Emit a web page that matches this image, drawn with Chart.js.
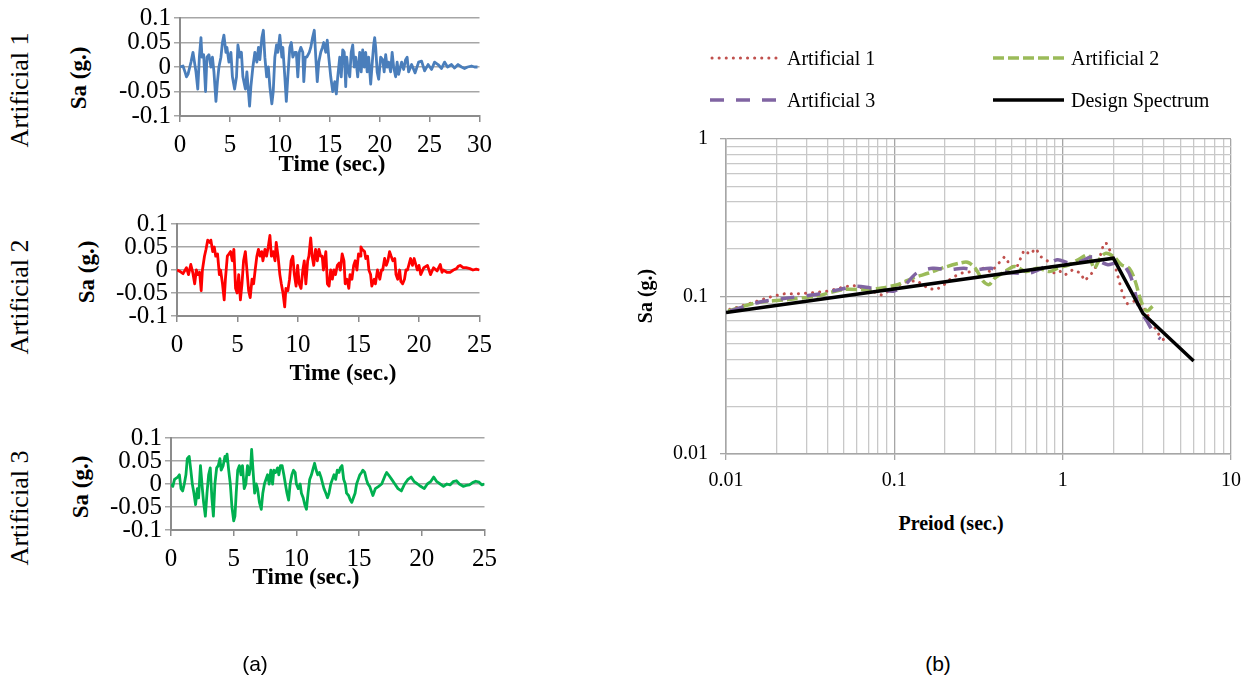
<!DOCTYPE html>
<html><head><meta charset="utf-8">
<script src="https://cdn.jsdelivr.net/npm/chart.js@4.4.1/dist/chart.umd.min.js"></script>
<style>
html,body{margin:0;padding:0;background:#fff;}
body{width:1252px;height:686px;position:relative;overflow:hidden;font-family:"Liberation Serif","Times New Roman",serif;color:#000;}
canvas{position:absolute;}
.lbl{position:absolute;white-space:nowrap;transform:translate(-50%,-50%);line-height:1;}
.rot{transform:translate(-50%,-50%) rotate(-90deg);}
.b{font-weight:bold;}
.sans{font-family:"Liberation Sans",Arial,sans-serif;}
.legtxt{position:absolute;font-size:20px;white-space:nowrap;line-height:1;transform:translateY(-50%);}
svg{position:absolute;left:0;top:0;}
</style></head>
<body>
<canvas id="c1" width="400" height="180" style="left:100px;top:0px"></canvas>
<canvas id="c2" width="400" height="185" style="left:100px;top:205px"></canvas>
<canvas id="c3" width="405" height="180" style="left:100px;top:420px"></canvas>
<canvas id="c4" width="602" height="390" style="left:650px;top:115px"></canvas>

<div class="lbl rot" style="left:20px;top:90px;font-size:26px">Artificial 1</div>
<div class="lbl rot" style="left:20px;top:297px;font-size:26px">Artificial 2</div>
<div class="lbl rot" style="left:20px;top:508px;font-size:26px">Artificial 3</div>
<div class="lbl rot b" style="left:78px;top:78px;font-size:23px">Sa (g.)</div>
<div class="lbl rot b" style="left:86px;top:272px;font-size:23px">Sa (g.)</div>
<div class="lbl rot b" style="left:80px;top:487px;font-size:23px">Sa (g.)</div>
<div class="lbl b" style="left:332px;top:163px;font-size:23px">Time (sec.)</div>
<div class="lbl b" style="left:343px;top:372px;font-size:23px">Time (sec.)</div>
<div class="lbl b" style="left:306px;top:576px;font-size:23px">Time (sec.)</div>
<div class="lbl rot b" style="left:645px;top:296px;font-size:20px">Sa (g.)</div>
<div class="lbl b" style="left:951px;top:523px;font-size:20px">Preiod (sec.)</div>
<div class="lbl sans" style="left:255px;top:663px;font-size:21px">(a)</div>
<div class="lbl sans" style="left:938px;top:663px;font-size:21px">(b)</div>

<svg width="1252" height="686">
  <line x1="712" y1="58" x2="777" y2="58" stroke="#c0504d" stroke-width="3" stroke-linecap="round" stroke-dasharray="0.1 7"/>
  <line x1="993" y1="58" x2="1064" y2="58" stroke="#9bbb59" stroke-width="3.5" stroke-dasharray="11 4"/>
  <line x1="710" y1="100" x2="777" y2="100" stroke="#8064a2" stroke-width="3.5" stroke-dasharray="14 12"/>
  <line x1="993" y1="100" x2="1064" y2="100" stroke="#000" stroke-width="3.5"/>
</svg>
<div class="legtxt" style="left:787px;top:58px">Artificial 1</div>
<div class="legtxt" style="left:1071px;top:58px">Artificial 2</div>
<div class="legtxt" style="left:787px;top:100px">Artificial 3</div>
<div class="legtxt" style="left:1071px;top:100px">Design Spectrum</div>

<script>
// ---------- Time histories ----------
const t1 = [0,0.3,0.5,0.65,0.8,1.1,1.3,1.45,1.6,1.78,1.94,2.1,2.2,2.37,2.56,2.7,2.9,3.1,3.25,3.4,3.6,3.75,3.9,4.1,4.25,4.4,4.6,4.7,4.9,5.1,5.25,5.47,5.66,5.8,6.0,6.15,6.3,6.55,6.7,6.97,7.1,7.3,7.5,7.7,7.86,8.0,8.2,8.35,8.5,8.68,8.85,9.0,9.2,9.34,9.5,9.67,9.8,10.0,10.2,10.3,10.5,10.65,10.8,11.0,11.15,11.3,11.5,11.65,11.8,11.95,12.1,12.3,12.4,12.55,12.7,12.95,13.1,13.28,13.45,13.6,13.75,13.9,14.1,14.27,14.4,14.6,14.75,14.9,15.1,15.3,15.5,15.66,15.8,16.0,16.15,16.3,16.45,16.6,16.7,16.8,17.0,17.15,17.3,17.45,17.6,17.8,18.0,18.15,18.3,18.45,18.6,18.75,18.9,19.1,19.3,19.4,19.5,19.6,19.75,19.9,20.1,20.3,20.45,20.6,20.75,20.9,21.1,21.25,21.4,21.6,21.75,21.9,22.2,22.4,22.6,22.75,22.9,23.2,23.55,23.9,24.2,24.5,24.85,25.2,25.5,25.85,26.2,26.5,26.8,27.2,27.5,27.85,28.2,28.5,28.8,29.2,29.5,29.8];
const a1 = [0,0.002,-0.01,-0.02,-0.015,0.01,0.03,0.01,-0.01,-0.045,0.02,0.06,0.02,0.025,-0.05,0.02,0.025,0,0.02,-0.01,-0.07,-0.03,0,0.02,0.05,0.065,0.03,0.04,0.01,0.03,-0.02,-0.045,-0.02,0.045,0.02,0.03,-0.02,-0.045,-0.01,-0.08,-0.04,0,0.03,0.01,0.04,0.015,0.06,0.075,0.02,-0.02,0,-0.04,-0.075,-0.05,0.02,0.045,0.03,0.065,0.02,0.04,-0.02,-0.07,-0.02,0.04,0.05,0.02,0.03,0.03,-0.02,0.03,0.04,0.03,-0.03,0.02,0.02,0.03,0.04,0.06,0.075,0.02,-0.03,0.01,0.03,0.04,0.05,0.03,0.055,0.02,-0.02,-0.05,-0.03,-0.055,-0.02,0.02,-0.02,0.035,0.03,-0.04,0.02,0,-0.02,0.03,0.045,0,0.02,-0.02,0.03,-0.01,0.035,0,0.03,-0.01,0.02,-0.035,0.02,0.045,0.06,0.04,-0.01,-0.025,0.02,0.015,-0.01,0.025,0,0.01,-0.01,0.03,0,-0.02,0.01,-0.015,0.01,-0.005,0.015,0.02,-0.01,0.005,-0.012,0.01,0.012,-0.008,0.005,-0.005,0.01,0.005,-0.003,0.01,0,0.005,-0.002,0.005,0,-0.003,0,0.002,0,0];

const t2 = [0,0.24,0.5,0.78,0.95,1.14,1.3,1.46,1.6,1.73,1.87,2.0,2.1,2.27,2.4,2.54,2.7,2.8,2.95,3.08,3.2,3.35,3.5,3.6,3.76,3.9,4.0,4.16,4.3,4.43,4.57,4.7,4.84,4.97,5.1,5.24,5.37,5.5,5.65,5.78,5.92,6.05,6.2,6.33,6.46,6.6,6.73,6.86,7.0,7.1,7.27,7.4,7.54,7.68,7.8,7.95,8.1,8.2,8.35,8.5,8.62,8.76,8.9,9.0,9.16,9.3,9.43,9.57,9.7,9.84,9.97,10.1,10.25,10.4,10.52,10.65,10.8,10.9,11.05,11.17,11.3,11.45,11.6,11.73,11.87,12.0,12.1,12.3,12.43,12.57,12.7,12.84,12.97,13.1,13.25,13.4,13.5,13.65,13.8,13.9,14.05,14.2,14.3,14.46,14.6,14.73,14.87,15.0,15.14,15.2,15.3,15.5,15.6,15.75,15.86,16.0,16.1,16.3,16.4,16.57,16.76,16.9,17.0,17.16,17.3,17.43,17.57,17.7,17.84,18.0,18.1,18.24,18.4,18.5,18.65,18.8,18.92,19.05,19.2,19.3,19.46,19.6,19.86,20.0,20.14,20.4,20.7,20.95,21.2,21.5,21.76,21.9,22.0,22.3,22.57,22.84,23.1,23.24,23.4,23.65,23.9,24.2,24.46,24.73,25.0];
const a2 = [0,-0.003,-0.008,0.005,-0.01,0.012,-0.005,-0.03,0,-0.01,-0.005,-0.045,0,0.03,0.045,0.065,0.06,0.065,0.04,0.05,0.03,0.035,-0.01,0,-0.03,-0.065,-0.02,0.03,0.035,0.04,0.02,0.045,-0.04,-0.05,-0.01,-0.065,-0.03,0.02,0.04,0,-0.045,-0.06,-0.02,-0.03,0,0.03,0.045,0.03,0.04,0.02,0.045,0.03,0.05,0.075,0.03,0.04,0.02,0.06,0.03,-0.01,-0.03,-0.05,-0.08,-0.04,-0.045,-0.02,0.02,0.03,-0.01,-0.035,0.01,-0.03,-0.04,0,0.02,-0.03,0.02,0.03,0.07,0.03,0.01,0.045,0.02,0.045,0.03,0.03,0,0.04,-0.03,-0.035,0,-0.02,0,-0.01,0.01,0.015,0,0.035,0.02,-0.03,-0.02,-0.04,-0.01,-0.02,0.01,0.02,0,0.035,0.03,0.05,0.045,0.04,0.025,0.03,0,-0.01,-0.035,-0.02,-0.03,0,-0.02,0,0,0.025,0.01,0.02,0.04,0.03,0.02,0.025,-0.01,-0.02,0,-0.025,-0.03,-0.02,0,0,0.015,0.025,0.01,0.025,0,0.01,-0.01,0.005,0.01,-0.01,0.005,-0.002,0.012,-0.005,0,-0.005,-0.005,0,0.003,0.008,0.01,0.005,0.005,0.003,0,0.002,0];

const t3 = [0,0.15,0.28,0.54,0.67,0.8,0.93,1.06,1.19,1.3,1.45,1.58,1.7,1.83,1.96,2.1,2.2,2.35,2.5,2.6,2.74,2.87,3.0,3.13,3.26,3.38,3.5,3.64,3.77,3.9,4.0,4.16,4.3,4.42,4.47,4.6,4.73,4.86,5.0,5.1,5.2,5.32,5.45,5.58,5.7,5.84,5.97,6.1,6.23,6.36,6.43,6.54,6.67,6.8,6.9,7.05,7.2,7.32,7.45,7.57,7.7,7.83,7.96,8.1,8.2,8.35,8.5,8.6,8.73,8.86,9.0,9.12,9.25,9.38,9.5,9.64,9.77,9.9,10.0,10.15,10.3,10.4,10.54,10.67,10.8,10.93,11.06,11.2,11.3,11.45,11.58,11.7,11.83,11.96,12.1,12.2,12.35,12.48,12.6,12.74,12.87,13.0,13.13,13.26,13.4,13.5,13.64,13.77,13.9,14.0,14.16,14.3,14.42,14.55,14.68,14.8,14.93,15.06,15.2,15.3,15.45,15.58,15.7,15.84,15.97,16.1,16.3,16.56,16.8,17.1,17.2,17.34,17.6,17.85,18.1,18.37,18.63,18.9,19.15,19.4,19.66,19.9,20.2,20.44,20.7,20.95,21.2,21.47,21.73,22.0,22.25,22.5,22.76,23.0,23.3,23.55,23.8,24.05,24.3,24.57,24.8,25.0];
const a3 = [0,-0.005,0.01,0.015,0.02,-0.01,-0.015,0,0.02,0.055,0.06,0.03,0,-0.02,-0.045,-0.01,-0.03,0.04,-0.01,-0.04,-0.07,-0.02,0.02,0.035,-0.03,-0.07,0,0.035,0.04,0.055,0.03,0.04,0.06,0.05,0.065,0.03,0,-0.05,-0.08,-0.07,-0.02,0.03,0.04,0.02,0.04,-0.01,0,0.04,0.02,0.04,0.075,0.03,-0.02,0,-0.01,-0.04,-0.055,-0.02,0,0.01,0.02,0,0.03,0,0.03,0.025,0.035,0.02,0.04,0.04,0.02,0,-0.02,-0.035,0,0.02,0.03,0.025,0,-0.01,0,-0.02,-0.03,-0.045,-0.055,-0.02,0.01,0.02,0.03,0.045,0.03,0.02,0.025,0.015,0,-0.01,-0.02,-0.03,-0.02,0,0.01,0.02,0.01,0.03,0.025,0.035,0.04,0.01,0,-0.02,-0.025,-0.035,-0.04,-0.03,-0.02,0,0.01,0.02,0.025,0.03,0.025,0.01,0,-0.005,-0.015,-0.025,-0.01,-0.005,0,0.02,0.025,0.02,0.01,0,-0.01,-0.015,0,0.01,0.015,0.005,0,-0.005,-0.01,0,0.005,0.015,0.005,0,-0.005,0,-0.002,0.005,0.007,0,-0.005,-0.003,-0.002,0.003,0.006,0.004,-0.002,0];

// ---------- Response spectra ----------
const art1T  = [0.0105,0.0124,0.0153,0.019,0.0222,0.0261,0.0323,0.04,0.0495,0.0565,0.0646,0.0759,0.0843,0.099,0.116,0.136,0.16,0.178,0.198,0.22,0.252,0.287,0.337,0.375,0.418,0.452,0.49,0.531,0.59,0.64,0.692,0.742,0.813,0.88,0.953,1.032,1.149,1.278,1.348,1.46,1.625,1.733,1.807,1.905,2.012,2.121,2.274,2.424,2.667,3.0,3.337,3.712,4.02];
const art1Sa = [0.0829,0.087,0.0935,0.1005,0.104,0.104,0.1054,0.108,0.1144,0.1178,0.1134,0.107,0.102,0.1134,0.1236,0.126,0.112,0.1106,0.119,0.132,0.141,0.144,0.151,0.143,0.163,0.179,0.157,0.151,0.197,0.185,0.202,0.179,0.168,0.141,0.146,0.137,0.148,0.141,0.126,0.136,0.163,0.207,0.22,0.197,0.167,0.136,0.103,0.09,0.0935,0.087,0.07,0.0578,0.0524];
const art2T  = [0.0103,0.0153,0.0235,0.0341,0.0495,0.0681,0.0843,0.1044,0.129,0.16,0.198,0.245,0.272,0.303,0.337,0.365,0.396,0.441,0.517,0.607,0.711,0.835,0.929,1.089,1.278,1.422,1.541,1.667,1.807,2.012,2.238,2.489,2.697,2.922,3.162,3.427];
const art2Sa = [0.0809,0.0913,0.0957,0.1005,0.1106,0.1106,0.1134,0.119,0.131,0.141,0.153,0.163,0.165,0.151,0.125,0.119,0.131,0.141,0.155,0.144,0.151,0.144,0.151,0.159,0.175,0.183,0.151,0.175,0.188,0.179,0.159,0.151,0.125,0.0935,0.0809,0.087];
const art3T  = [0.0106,0.0153,0.0235,0.0341,0.0469,0.0581,0.0719,0.0843,0.099,0.116,0.136,0.169,0.209,0.258,0.303,0.375,0.441,0.517,0.64,0.75,0.929,1.089,1.278,1.5,1.667,1.857,2.066,2.298,2.556,2.844,3.162,3.52,3.81];
const art3Sa = [0.0809,0.0913,0.098,0.103,0.1106,0.116,0.1134,0.1106,0.108,0.119,0.141,0.151,0.148,0.151,0.148,0.151,0.144,0.141,0.141,0.151,0.171,0.163,0.167,0.179,0.167,0.159,0.163,0.159,0.131,0.0849,0.07,0.0578,0.0537];
const designT  = [0.01, 2, 3, 6];
const designSa = [0.079, 0.175, 0.078, 0.039];

// ---------- Tick values / labels ----------
const accTicks = [-0.1, -0.05, 0, 0.05, 0.1];
const accLabels = ['-0.1', '-0.05', '0', '0.05', '0.1'];
const time30Ticks = [0, 5, 10, 15, 20, 25, 30];
const time25Ticks = [0, 5, 10, 15, 20, 25];
const periodDecades = [0.01, 0.1, 1, 10];
const periodLabels = ['0.01', '0.1', '1', '10'];
const saDecades = [0.01, 0.1, 1];
const saLabels = ['0.01', '0.1', '1'];
const logMultipliers = [1, 2, 3, 4, 5, 6, 7, 8, 9];

const SERIF = "'Liberation Serif', 'Times New Roman', serif";
Chart.defaults.font.family = SERIF;
Chart.defaults.color = '#000';

const pairs = (xs, ys) => xs.map((x, i) => ({x: x, y: ys[i]}));

function tsChart(id, t, a, color, xTicks, g) {
  const xmax = xTicks[xTicks.length - 1];
  new Chart(document.getElementById(id), {
    type: 'line',
    data: { datasets: [{ data: pairs(t, a), borderColor: color, borderWidth: 2.8, pointRadius: 0, tension: 0, fill: false, borderJoinStyle: 'round' }] },
    options: {
      responsive: false, animation: false, events: [],
      layout: { padding: { left: 0, top: g.top, right: g.right, bottom: 0 } },
      plugins: { legend: { display: false }, tooltip: { enabled: false } },
      scales: {
        x: {
          type: 'linear', min: 0, max: xmax,
          afterBuildTicks: s => { s.ticks = xTicks.map(v => ({value: v})); },
          afterFit: s => { s.height = g.xh; },
          ticks: { font: { family: SERIF, size: g.fs }, color: '#000', padding: g.xpad, maxRotation: 0, autoSkip: false, callback: v => String(v) },
          grid: { drawOnChartArea: false, drawTicks: true, tickLength: 6, color: '#8c8c8c', lineWidth: 1.5 },
          border: { display: true, color: '#8c8c8c', width: 2 }
        },
        y: {
          type: 'linear', min: -0.1, max: 0.1,
          afterBuildTicks: s => { s.ticks = accTicks.map(v => ({value: v})); },
          afterFit: s => { s.width = g.yw; },
          ticks: { font: { family: SERIF, size: g.fs }, color: '#000', padding: 3, autoSkip: false, callback: (v, i) => accLabels[i] },
          grid: { color: '#a6a6a6', lineWidth: 1.5, tickLength: 6, drawTicks: true },
          border: { display: true, color: '#8c8c8c', width: 2 }
        }
      }
    }
  });
}

function logTicks(decades) {
  const out = [];
  decades.forEach((d, i) => {
    if (i === decades.length - 1) { out.push({value: d}); return; }
    logMultipliers.forEach(m => out.push({value: +(d * m).toPrecision(3)}));
  });
  return out;
}
const isDecade = v => periodDecades.some(d => Math.abs(v - d) < d * 1e-6);

function drawAll() {
  tsChart('c1', t1, a1, '#4a7ebb', time30Ticks, {top: 16, right: 14, xh: 64, yw: 80, fs: 25, xpad: 8});
  tsChart('c2', t2, a2, '#ff0000', time25Ticks, {top: 19, right: 13, xh: 74, yw: 77, fs: 25, xpad: 8});
  tsChart('c3', t3, a3, '#00b050', time25Ticks, {top: 18, right: 14, xh: 70, yw: 71, fs: 25, xpad: 8});

  new Chart(document.getElementById('c4'), {
    type: 'line',
    data: {
      datasets: [
        { label: 'Artificial 1', data: pairs(art1T, art1Sa), borderColor: '#c0504d', borderWidth: 3, borderDash: [0.1, 7], borderCapStyle: 'round', pointRadius: 0, tension: 0, order: 3 },
        { label: 'Artificial 2', data: pairs(art2T, art2Sa), borderColor: '#9bbb59', borderWidth: 3.5, borderDash: [11, 4], pointRadius: 0, tension: 0.3, order: 2 },
        { label: 'Artificial 3', data: pairs(art3T, art3Sa), borderColor: '#8064a2', borderWidth: 3.5, borderDash: [14, 12], pointRadius: 0, tension: 0.3, order: 1 },
        { label: 'Design Spectrum', data: pairs(designT, designSa), borderColor: '#000000', borderWidth: 3.5, pointRadius: 0, tension: 0, order: 0 }
      ]
    },
    options: {
      responsive: false, animation: false, events: [],
      layout: { padding: { left: 0, top: 21, right: 21, bottom: 0 } },
      plugins: { legend: { display: false }, tooltip: { enabled: false } },
      scales: {
        x: {
          type: 'logarithmic', min: 0.01, max: 10,
          afterBuildTicks: s => { s.ticks = logTicks(periodDecades); },
          afterFit: s => { s.height = 51; },
          ticks: { font: { family: SERIF, size: 20 }, color: '#000', padding: 9, maxRotation: 0, autoSkip: false,
            callback: v => { const k = periodDecades.findIndex(d => Math.abs(v - d) < d * 1e-6); return k >= 0 ? periodLabels[k] : ''; } },
          grid: { color: c => isDecade(c.tick.value) ? '#a6a6a6' : '#c8c8c8', lineWidth: 1.3, tickLength: 6,
            tickColor: c => isDecade(c.tick.value) ? '#a6a6a6' : 'rgba(0,0,0,0)' },
          border: { display: true, color: '#a6a6a6', width: 1.5 }
        },
        y: {
          type: 'logarithmic', min: 0.01, max: 1,
          afterBuildTicks: s => { s.ticks = logTicks(saDecades); },
          afterFit: s => { s.width = 76; },
          ticks: { font: { family: SERIF, size: 20 }, color: '#000', padding: 12, autoSkip: false,
            callback: v => { const k = saDecades.findIndex(d => Math.abs(v - d) < d * 1e-6); return k >= 0 ? saLabels[k] : ''; } },
          grid: { color: c => isDecade(c.tick.value) ? '#a6a6a6' : '#c8c8c8', lineWidth: 1.3, tickLength: 6,
            tickColor: c => isDecade(c.tick.value) ? '#a6a6a6' : 'rgba(0,0,0,0)' },
          border: { display: true, color: '#a6a6a6', width: 1.5 }
        }
      }
    }
  });
}

if (document.fonts && document.fonts.load) {
  Promise.all([document.fonts.load('25px "Liberation Serif"'), document.fonts.load('bold 20px "Liberation Serif"')])
    .then(drawAll, drawAll);
} else {
  drawAll();
}
</script>
</body></html>
